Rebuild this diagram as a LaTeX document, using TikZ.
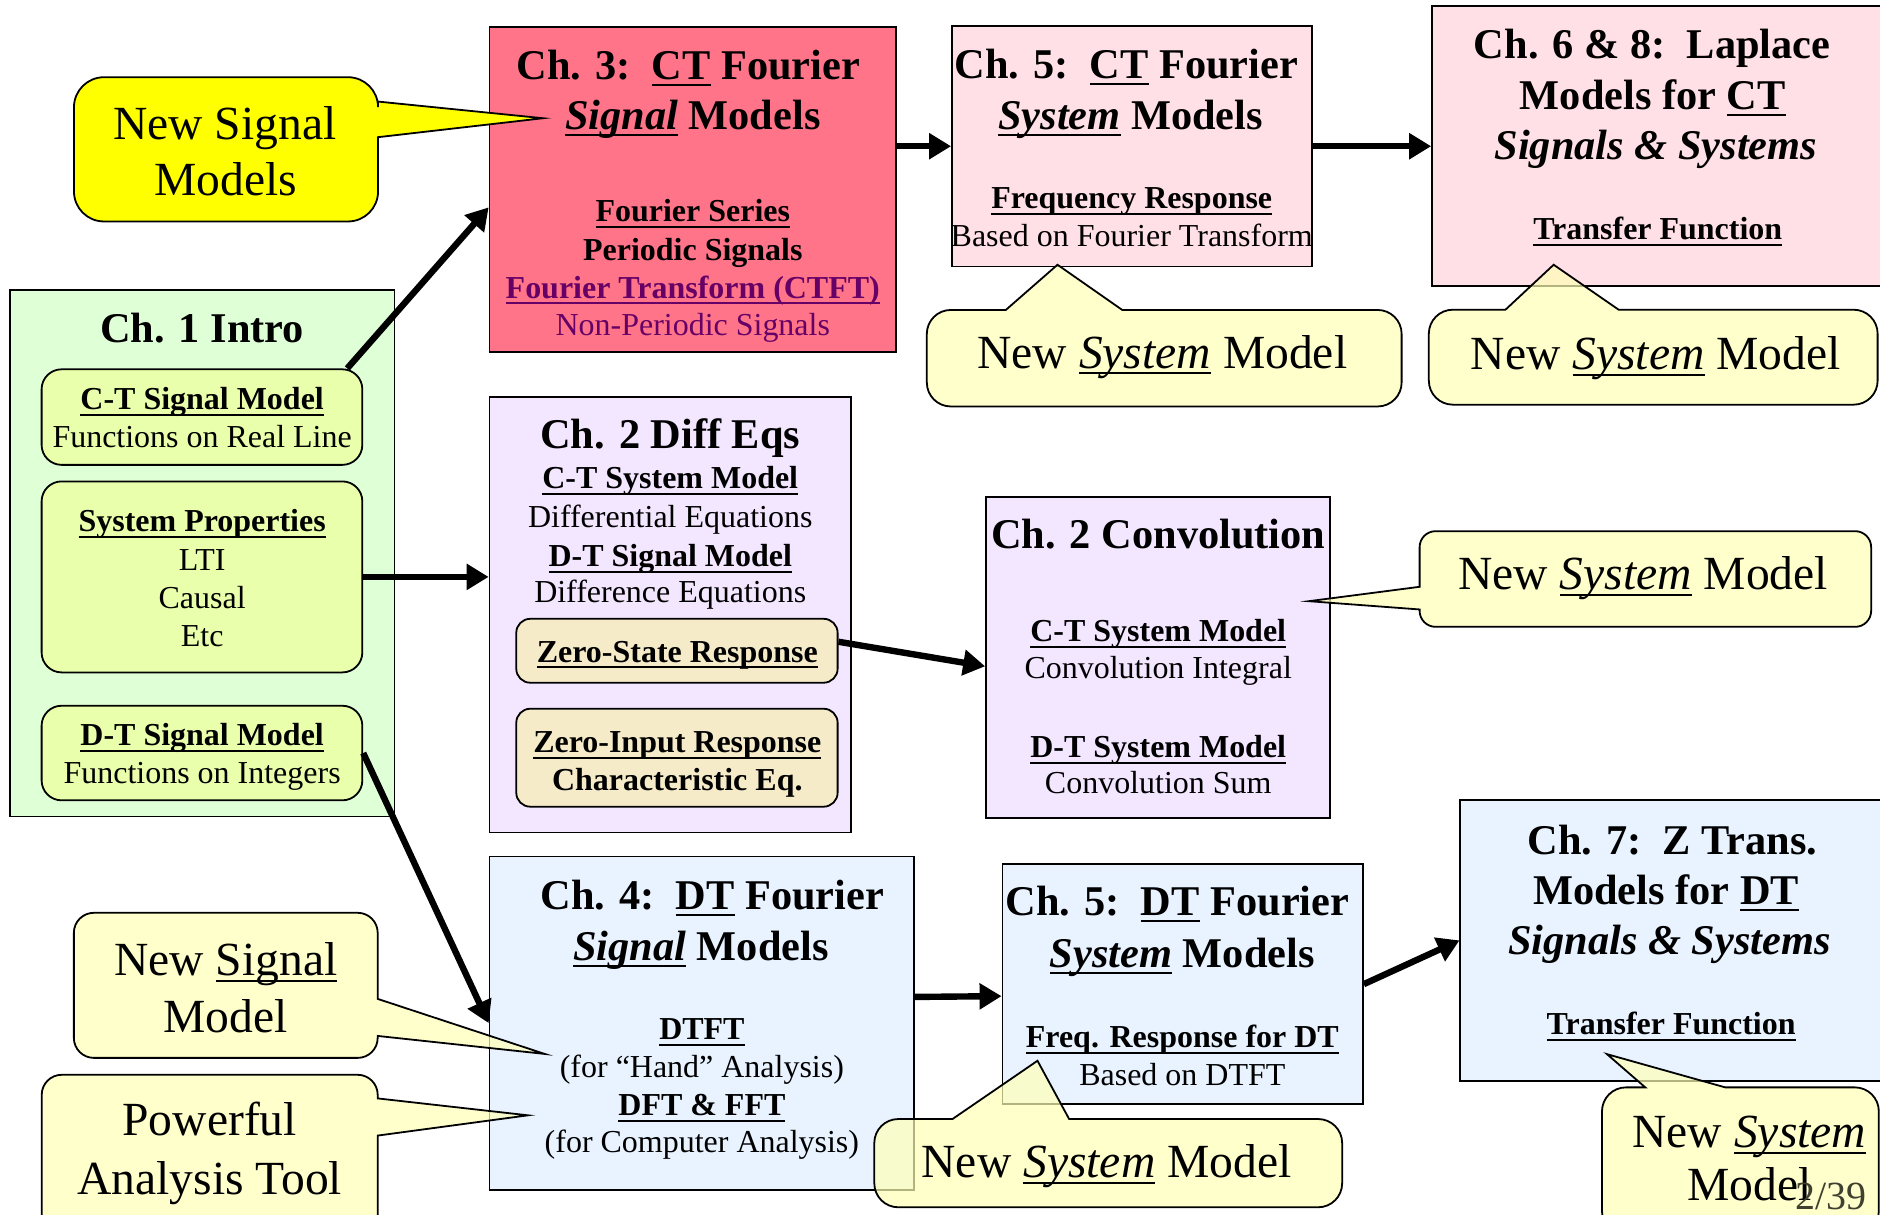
\documentclass[tikz,border=0pt]{standalone}
\usepackage{fontspec}
\setmainfont{Liberation Serif}
\usetikzlibrary{arrows.meta,fit}
\newsavebox\undlbox
\newcommand\undl[1]{\leavevmode\sbox\undlbox{#1}\rlap{\rule[-3.2pt]{\wd\undlbox}{1pt}}\usebox\undlbox}
\definecolor{introgreen}{RGB}{223,255,214}
\definecolor{pillgreen}{RGB}{233,255,171}
\definecolor{ctred}{RGB}{255,116,136}
\definecolor{ctpink}{RGB}{255,224,230}
\definecolor{eqlilac}{RGB}{243,230,255}
\definecolor{eqwheat}{RGB}{245,235,200}
\definecolor{dtblue}{RGB}{232,243,255}
\definecolor{noteyel}{RGB}{255,255,182}
\definecolor{sigyel}{RGB}{255,255,0}
\definecolor{ftpurple}{RGB}{102,0,102}
\definecolor{pagegray}{RGB}{64,64,48}
\newcommand\hdfont{\fontsize{21.2}{25}\selectfont\bfseries}
\newcommand\kwfont{\fontsize{16}{19}\selectfont\bfseries}
\newcommand\txfont{\fontsize{16}{19}\selectfont}
\newcommand\bigfont{\fontsize{23.8}{28}\selectfont}
\begin{document}
\begin{tikzpicture}[x=0.6pt, y=-0.6pt,
    chbox/.style={draw, line width=0.9pt, inner sep=0pt},
    pill/.style={chbox, rounded corners=10pt, fill=pillgreen},
    wheat/.style={chbox, rounded corners=7pt, fill=eqwheat},
    ttl/.style={anchor=base, font=\hdfont},
    kw/.style={anchor=base, font=\kwfont},
    txt/.style={anchor=base, font=\txfont},
    say/.style={anchor=base, font=\bigfont},
    bubble/.style={draw, line width=0.9pt, fill=noteyel, fill opacity=0.7},
    arr/.style={line width=3.2pt, -{Triangle[length=11pt,width=12.5pt]}}]
    \useasboundingbox (0,0) rectangle (1568,1013);
    \clip (0,0) rectangle (1568,1013);

    % chapter boxes
    \node[chbox, fill=introgreen, fit={(8.5,242) (329,681)}] (intro) {};
    \node[pill, fit={(34.7,308) (302.2,387.7)}] (ctsig) {};
    \node[pill, fit={(34.7,401.5) (302.2,560.8)}] (sysprop) {};
    \node[pill, fit={(34.7,588.6) (302.2,667.5)}] (dtsig) {};
    \node[chbox, fill=ctred, fit={(408.3,22.2) (747.2,293.9)}] (ch3) {};
    \node[chbox, fill=ctpink, fit={(794,21.7) (1094,222.2)}] (ch5ct) {};
    \node[chbox, fill=ctpink, fit={(1194.4,5) (1580,238.3)}] (ch68) {};
    \node[chbox, fill=eqlilac, fit={(408.3,331.1) (709.7,694.4)}] (ch2) {};
    \node[wheat, fit={(430.6,516.1) (698.6,569.4)}] (zsr) {};
    \node[wheat, fit={(430.6,591.1) (698.6,672.8)}] (zir) {};
    \node[chbox, fill=eqlilac, fit={(822.4,414.4) (1109.4,682)}] (conv) {};
    \node[chbox, fill=dtblue, fit={(408.3,714.4) (762.5,992.2)}] (ch4) {};
    \node[chbox, fill=dtblue, fit={(836.1,720.8) (1136.7,920.8)}] (ch5dt) {};
    \node[chbox, fill=dtblue, fit={(1218,667.2) (1580,901.4)}] (ch7) {};

    % texts in the boxes
    \node[ttl] (t1a) at (168.6,286) {Ch. 1 Intro};
    \node[kw] (t1b) at (168.6,341.5) {\undl{C-T Signal Model}};
    \node[txt] (t1c) at (168.6,373.1) {Functions on Real Line};
    \node[kw] (t1d) at (168.6,443.3) {\undl{System Properties}};
    \node[txt] (t1e) at (168.6,475.4) {LTI};
    \node[txt] (t1f) at (168.6,507.6) {Causal};
    \node[txt] (t1g) at (168.6,538.9) {Etc};
    \node[kw] (t1h) at (168.6,621.7) {\undl{D-T Signal Model}};
    \node[txt] (t1i) at (168.6,653.8) {Functions on Integers};

    \node[ttl] (t3a) at (574,66.7) {Ch. 3:\ \ \undl{CT} Fourier};
    \node[ttl] (t3b) at (577.8,108.3) {\undl{\textit{Signal}} Models};
    \node[kw] (t3c) at (577.8,184.7) {\undl{Fourier Series}};
    \node[kw] (t3d) at (577.8,217.2) {Periodic Signals};
    \node[kw, text=ftpurple] (t3e) at (577.8,248.6) {\undl{Fourier Transform (CTFT)}};
    \node[txt, text=ftpurple] (t3f) at (577.8,280) {Non-Periodic Signals};

    \node[ttl] (t5a) at (939.4,65.3) {Ch. 5:\ \ \undl{CT} Fourier};
    \node[ttl] (t5b) at (943,108.3) {\undl{\textit{System}} Models};
    \node[kw] (t5c) at (943.9,173.6) {\undl{Frequency Response}};
    \node[txt] (t5d) at (943.9,205.6) {Based on Fourier Transform};

    \node[ttl] (t6a) at (1378,48.6) {Ch. 6 \& 8:\ \ Laplace};
    \node[ttl] (t6b) at (1378.5,91.7) {Models for \undl{CT}};
    \node[ttl] (t6c) at (1381,133.3) {\textit{Signals \& Systems}};
    \node[kw] (t6d) at (1382.6,200) {\undl{Transfer Function}};

    \node[ttl] (t2a) at (559,374.4) {Ch. 2 Diff Eqs};
    \node[kw] (t2b) at (559,407.8) {\undl{C-T System Model}};
    \node[txt] (t2c) at (559,440.3) {Differential Equations};
    \node[kw] (t2d) at (559,472.2) {\undl{D-T Signal Model}};
    \node[txt] (t2e) at (559,502.8) {Difference Equations};
    \node[kw] (t2f) at (564.9,552.2) {\undl{Zero-State Response}};
    \node[kw] (t2g) at (564.9,627.8) {\undl{Zero-Input Response}};
    \node[kw] (t2h) at (564.9,659.7) {Characteristic Eq.};

    \node[ttl] (tca) at (966,457.8) {Ch. 2 Convolution};
    \node[kw] (tcb) at (966,534.7) {\undl{C-T System Model}};
    \node[txt] (tcc) at (966,566.1) {Convolution Integral};
    \node[kw] (tcd) at (966,631.9) {\undl{D-T System Model}};
    \node[txt] (tce) at (966,661.7) {Convolution Sum};

    \node[ttl] (t4a) at (594,758.3) {Ch. 4:\ \ \undl{DT} Fourier};
    \node[ttl] (t4b) at (584.7,801.4) {\undl{\textit{Signal}} Models};
    \node[kw] (t4c) at (585.4,866.7) {\undl{DTFT}};
    \node[txt] (t4d) at (585.4,898.6) {(for ``Hand'' Analysis)};
    \node[kw] (t4e) at (585.4,930.6) {\undl{DFT \& FFT}};
    \node[txt] (t4f) at (585.4,961.1) {(for Computer Analysis)};

    \node[ttl] (tda) at (982,763.9) {Ch. 5:\ \ \undl{DT} Fourier};
    \node[ttl] (tdb) at (986.1,806.9) {\undl{\textit{System}} Models};
    \node[kw] (tdc) at (986.1,873.6) {\undl{Freq. Response for DT}};
    \node[txt] (tdd) at (986.1,905) {Based on DTFT};

    \node[ttl] (t7a) at (1395,712.5) {Ch. 7:\ \ Z Trans.};
    \node[ttl] (t7b) at (1389.6,754.2) {Models for \undl{DT}};
    \node[ttl] (t7c) at (1392.4,795.8) {\textit{Signals \& Systems}};
    \node[kw] (t7d) at (1393.8,862.5) {\undl{Transfer Function}};

    % callouts
    \draw[bubble, fill=sigyel, fill opacity=1] (315.3,84.7) [rounded corners=15pt] -- (315.3,64.4) -- (61.7,64.4) -- (61.7,184.7) -- (315.3,184.7) [sharp corners] -- (315.3,114.4) -- (452.8,98.6) -- cycle;
    \draw[bubble] (936,258.5) [rounded corners=12pt] -- (1169,258.5) -- (1169,339) -- (773,339) -- (773,258.5) [sharp corners] -- (838.9,258.5) -- (882,220.8) -- cycle;
    \draw[bubble] (1350,258.3) [rounded corners=12pt] -- (1566,258.3) -- (1566,337.5) -- (1191.7,337.5) -- (1191.7,258.3) [sharp corners] -- (1255.6,258.3) -- (1295.8,220.8) -- cycle;
    \draw[bubble] (1184,508.3) [rounded corners=8pt] -- (1184,522.8) -- (1560.6,522.8) -- (1560.6,443) -- (1184,443) [sharp corners] -- (1184,489.4) -- (1091.7,501.4) -- cycle;
    \draw[bubble] (315,833.1) [rounded corners=10pt] -- (315,761.3) -- (61.6,761.3) -- (61.6,882.3) -- (315,882.3) [sharp corners] -- (315,864) -- (454.3,879) -- cycle;
    \draw[bubble] (315,947.1) [rounded corners=10pt] -- (315,1030) -- (34.8,1030) -- (34.8,896.4) -- (315,896.4) [sharp corners] -- (315,916.1) -- (440.3,930.2) -- cycle;
    \draw[bubble] (891.7,933.3) [rounded corners=12pt] -- (1119.4,933.3) -- (1119.4,1006.9) -- (729.2,1006.9) -- (729.2,933.3) [sharp corners] -- (794.4,933.3) -- (865.3,884.7) -- cycle;
    \draw[bubble] (1438.9,906.9) [rounded corners=12pt] -- (1567,906.9) -- (1567,1030) -- (1336.1,1030) -- (1336.1,906.9) [sharp corners] -- (1372.2,906.9) -- (1340.3,879.2) -- cycle;

    \node[say] (sa1) at (187.5,116.1) {New Signal};
    \node[say] (sa2) at (188.2,163.3) {Models};
    \node[say] (sb) at (969.4,307) {New \undl{\textit{System}} Model};
    \node[say] (sc) at (1381,308.3) {New \undl{\textit{System}} Model};
    \node[say] (sd) at (1370.4,491.7) {New \undl{\textit{System}} Model};
    \node[say] (se1) at (188.3,813.3) {New \undl{Signal}};
    \node[say] (se2) at (188.3,861.2) {Model};
    \node[say] (sf1) at (174.9,947.1) {Powerful};
    \node[say] (sf2) at (174.9,996.3) {Analysis Tool};
    \node[say] (sg) at (922.9,981.9) {New \undl{\textit{System}} Model};
    \node[say] (sh1) at (1459,957) {New \undl{\textit{System}}};
    \node[say] (sh2) at (1459,1001.4) {Model};
    \node[anchor=base west, inner sep=0pt, font=\fontsize{20}{22}\selectfont, text=pagegray] (pg) at (1497.2,1008.9) {2/39};

    % arrows
    \draw[arr] ([xshift=-8pt]ctsig.north east) -- (ch3.185.7);
    \draw[arr] (sysprop.east) -- (sysprop.east -| ch2.west);
    \draw[arr] (dtsig.east) -- (ch4.west);
    \draw[arr] (ch3.east |- ch5ct.west) -- (ch5ct.west);
    \draw[arr] (ch5ct.east) -- (ch5ct.east -| ch68.west);
    \draw[arr] ([yshift=4.5pt]zsr.east) -- ([yshift=-4.5pt]conv.west);
    \draw[arr] (ch4.7.3) -- ([yshift=-6pt]ch5dt.west);
    \draw[arr] (ch5dt.east) -- (ch7.west);
\end{tikzpicture}
\end{document}
